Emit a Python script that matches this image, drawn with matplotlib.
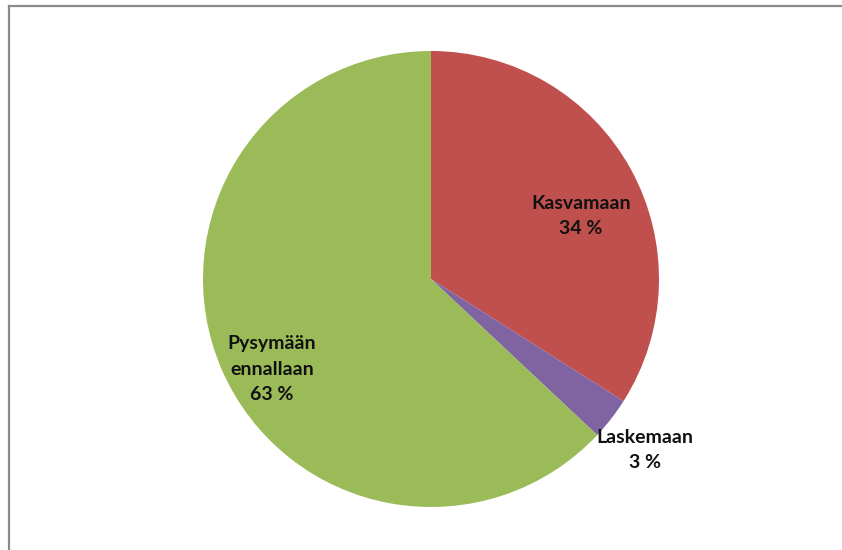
import matplotlib
matplotlib.use("Agg")
import matplotlib.pyplot as plt
from matplotlib.lines import Line2D

categories = ["Kasvamaan", "Laskemaan", "Pysymään\nennallaan"]
values = [34, 3, 63]
colors = ["#C0504D", "#8064A2", "#9BBB59"]
label_pos = [(0.658, 0.276), (0.939, -0.75), (-0.697, -0.395)]

plt.rcParams['font.family'] = ['Lato', 'DejaVu Sans']

W, H = 842, 550
fig = plt.figure(figsize=(W / 100, H / 100), dpi=100)
fig.patch.set_facecolor("white")

cx, cy, r = 431, 279, 228
ax = fig.add_axes([(cx - r) / W, (H - cy - r) / H, 2 * r / W, 2 * r / H])
ax.pie(values, colors=colors, startangle=90, counterclock=False, radius=1,
       wedgeprops=dict(linewidth=0))
ax.set_xlim(-1, 1)
ax.set_ylim(-1, 1)
ax.set_aspect("equal")
ax.axis("off")

for cat, v, (x, y) in zip(categories, values, label_pos):
    ax.text(x, y, f"{cat}\n{v} %", ha="center", va="center", fontsize=14,
            fontweight="bold", color="#111111", linespacing=1.6)

# frame lines (top and left)
fig.add_artist(Line2D([8.5 / W, 1], [1 - 5.5 / H, 1 - 5.5 / H], color="#8a8a8a", lw=1.6,
                      transform=fig.transFigure))
fig.add_artist(Line2D([8.5 / W, 8.5 / W], [0, 1 - 5.5 / H], color="#8a8a8a", lw=1.6,
                      transform=fig.transFigure))

fig.savefig("out.png", dpi=100)
